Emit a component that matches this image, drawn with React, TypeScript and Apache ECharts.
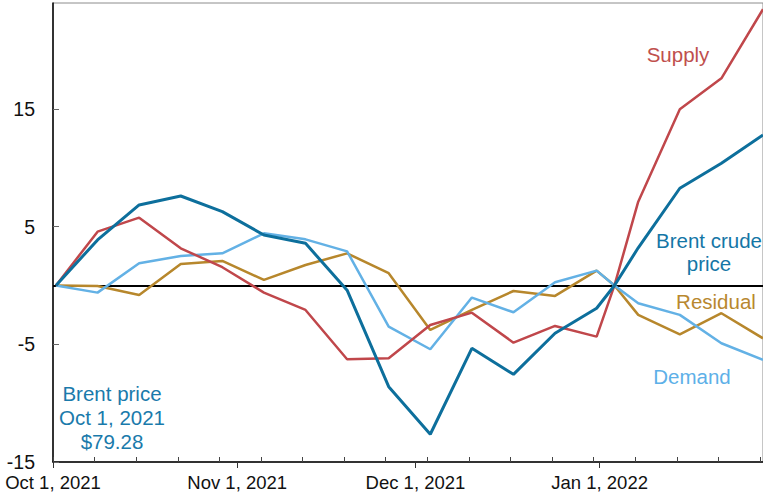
import React, { useEffect, useRef } from "react";
import * as echarts from "echarts";

const dates = [
  "2021-10-01", "2021-10-08", "2021-10-15", "2021-10-22", "2021-10-29",
  "2021-11-05", "2021-11-12", "2021-11-19", "2021-11-26", "2021-12-03",
  "2021-12-10", "2021-12-17", "2021-12-24", "2021-12-31", "2022-01-03",
  "2022-01-07", "2022-01-14", "2022-01-21", "2022-01-28",
];
const brent = [0, 3.87, 6.84, 7.6, 6.27, 4.29, 3.58, -0.4, -8.6, -12.64, -5.34, -7.55, -4.06, -1.94, 0, 3.2, 8.26, 10.38, 12.79];
const supply = [0, 4.57, 5.76, 3.16, 1.55, -0.61, -2.08, -6.27, -6.19, -3.36, -2.31, -4.86, -3.44, -4.35, 0, 7.12, 14.97, 17.6, 23.47];
const demand = [0, -0.61, 1.88, 2.5, 2.73, 4.43, 3.92, 2.9, -3.5, -5.42, -1.03, -2.28, 0.27, 1.26, 0, -1.51, -2.5, -4.91, -6.33];
const residual = [0, -0.04, -0.81, 1.83, 2.08, 0.47, 1.74, 2.73, 1.04, -3.78, -2.08, -0.47, -0.89, 1.26, 0, -2.5, -4.15, -2.36, -4.49];

const monthTicks = ["2021-10-01", "2021-11-01", "2021-12-01", "2022-01-01"];
const monthLabels = ["Oct 1, 2021", "Nov 1, 2021", "Dec 1, 2021", "Jan 1, 2022"];
const yTicks = [-15, -5, 5, 15];

const START = Date.UTC(2021, 9, 1);
const DAY = 86400000;
const dayOf = (s: string) => {
  const [y, m, d] = s.split("-").map(Number);
  return (Date.UTC(y, m - 1, d) - START) / DAY;
};

const FONT = "'Liberation Sans', Arial, sans-serif";
const C_BRENT = "#0d6f9c";
const C_SUPPLY = "#c0474b";
const C_DEMAND = "#63b1e5";
const C_RESID = "#b7872c";

export default function App() {
  const ref = useRef<HTMLDivElement>(null);
  useEffect(() => {
    if (!ref.current) return;
    const chart = echarts.init(ref.current, null, { renderer: "svg" });
    const xs = dates.map((d) => dayOf(d) + 0.5);
    const mk = (vals: number[]) => vals.map((v, i) => [xs[i], v]);
    const monthVals = monthTicks.map(dayOf);
    const weekVals: number[] = [];
    for (let d = 0; d <= 119; d += 7) weekVals.push(d);
    const xMax = 119.5;

    const lineSeries = (name: string, vals: number[], color: string, width: number, extra: any = {}) => ({
      name,
      type: "line",
      data: mk(vals),
      showSymbol: false,
      symbol: "none",
      lineStyle: { color, width },
      itemStyle: { color },
      z: 3,
      ...extra,
    });

    chart.setOption({
      animation: false,
      grid: {
        left: 53, right: 0, top: 3, bottom: 34,
        show: true, borderColor: "#8c8c8c", borderWidth: 1, backgroundColor: "transparent",
      },
      xAxis: [
        {
          type: "value",
          min: 0,
          max: xMax,
          axisLine: { show: true, onZero: false, lineStyle: { color: "#000", width: 1.5 } },
          axisTick: { show: true, inside: false, length: 6, customValues: monthVals, lineStyle: { color: "#333" } },
          axisLabel: {
            show: true,
            customValues: monthVals,
            margin: 11,
            fontSize: 18.5,
            fontFamily: FONT,
            color: "#111",
            formatter: (v: number) => {
              const i = monthVals.indexOf(v);
              return i >= 0 ? monthLabels[i] : "";
            },
          },
          splitLine: { show: false },
        },
        {
          type: "value",
          min: 0,
          max: xMax,
          position: "bottom",
          axisLine: { show: false, onZero: false },
          axisTick: { show: true, inside: true, length: 5, customValues: weekVals, lineStyle: { color: "#444" } },
          axisLabel: { show: false },
          splitLine: { show: false },
        },
      ],
      yAxis: {
        type: "value",
        min: -15,
        max: 24,
        axisLine: { show: true, onZero: false, lineStyle: { color: "#000", width: 1.5 } },
        axisTick: { show: true, inside: true, length: 6, customValues: yTicks, lineStyle: { color: "#666" } },
        axisLabel: { customValues: yTicks, margin: 18, fontSize: 19.5, fontFamily: FONT, color: "#111" },
        splitLine: { show: false },
      },
      series: [
        lineSeries("Residual", residual, C_RESID, 2.5),
        lineSeries("Demand", demand, C_DEMAND, 2.5),
        lineSeries("Supply", supply, C_SUPPLY, 2.5),
        lineSeries("Brent crude price", brent, C_BRENT, 3, {
          markLine: {
            silent: true,
            symbol: ["none", "none"],
            label: { show: false },
            lineStyle: { color: "#000", width: 2, type: "solid" },
            data: [{ yAxis: 0 }],
            z: 2,
          },
        }),
      ],
      graphic: [
        { type: "text", x: 678, y: 54, style: { text: "Supply", fill: "#c0504d", font: `20.5px ${FONT}`, align: "center", verticalAlign: "middle" } },
        { type: "text", x: 709, y: 252, style: { text: "Brent crude\nprice", fill: "#1476a6", font: `20.5px ${FONT}`, align: "center", verticalAlign: "middle", lineHeight: 23 } },
        { type: "text", x: 716, y: 301, style: { text: "Residual", fill: "#b8882f", font: `20.5px ${FONT}`, align: "center", verticalAlign: "middle" } },
        { type: "text", x: 692, y: 376, style: { text: "Demand", fill: "#5db0e8", font: `20.5px ${FONT}`, align: "center", verticalAlign: "middle" } },
        { type: "text", x: 112, y: 417, style: { text: "Brent price\nOct 1, 2021\n$79.28", fill: "#1a7aab", font: `20.5px ${FONT}`, align: "center", verticalAlign: "middle", lineHeight: 24 } },
      ],
    });
    return () => chart.dispose();
  }, []);
  return <div ref={ref} style={{ width: 763, height: 496, position: "absolute", left: 0, top: 0 }} />;
}
